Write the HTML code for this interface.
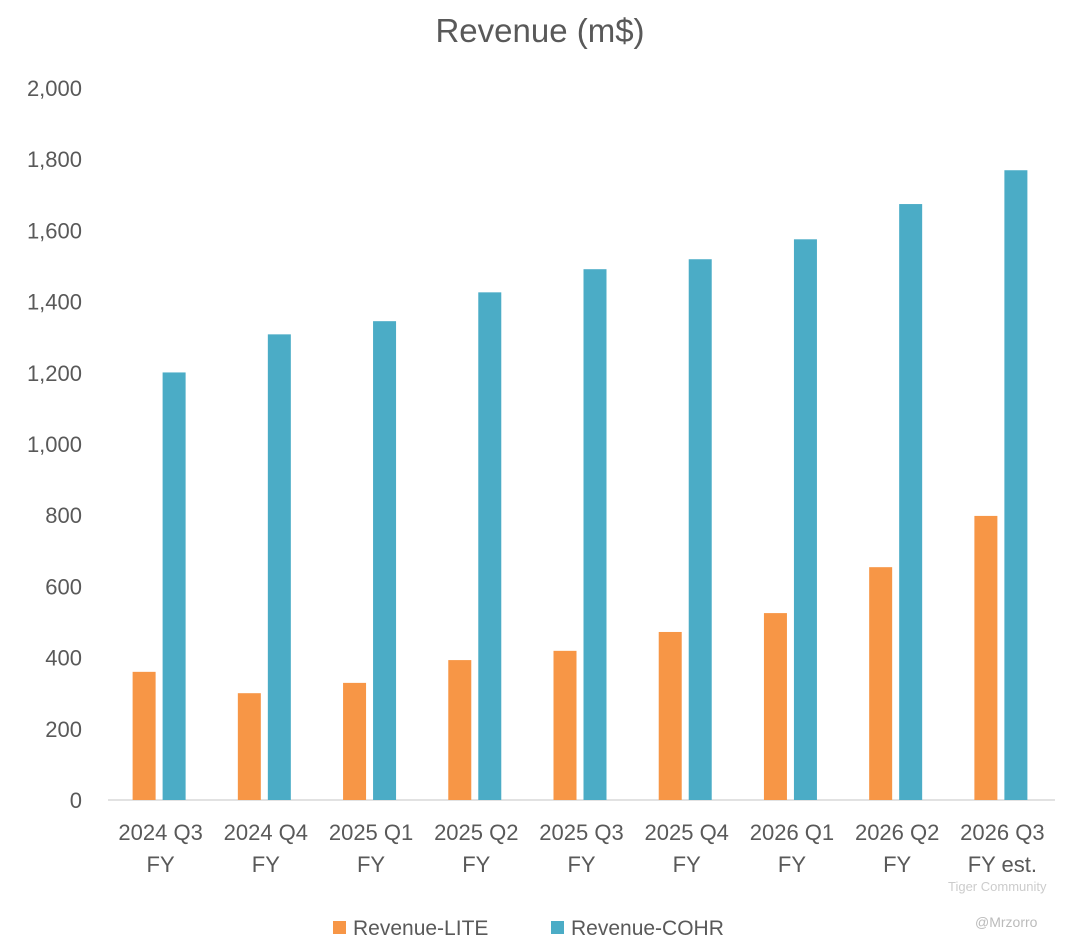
<!DOCTYPE html>
<html><head><meta charset="utf-8"><style>
body{margin:0;background:#fff;font-family:"Liberation Sans",sans-serif}
</style></head><body>
<svg id="chart" width="1080" height="946" xmlns="http://www.w3.org/2000/svg">
<text x="540" y="42" text-anchor="middle" font-size="33" fill="#595959" font-family="Liberation Sans, sans-serif">Revenue (m$)</text>
<g id="axes"></g><g id="bars"></g>
<g font-size="21" fill="#595959">
<rect x="333" y="921" width="13" height="13" fill="#F79646"/>
<text x="353" y="935">Revenue-LITE</text>
<rect x="551" y="921" width="13" height="13" fill="#4BACC6"/>
<text x="571" y="935">Revenue-COHR</text>
</g>
<text x="948" y="891" font-size="13" fill="#ccc">Tiger Community</text>
<text x="975" y="927" font-size="14" fill="#bbb">@Mrzorro</text>
</svg>
<script>
const categories=[["2024 Q3","FY"],["2024 Q4","FY"],["2025 Q1","FY"],["2025 Q2","FY"],["2025 Q3","FY"],["2025 Q4","FY"],["2026 Q1","FY"],["2026 Q2","FY"],["2026 Q3","FY est."]];
const lite=[360,300,329,393,419,472,525,654,798];
const cohr=[1201,1308,1345,1426,1491,1519,1575,1674,1769];
const yTicks=[0,200,400,600,800,1000,1200,1400,1600,1800,2000];
const NS="http://www.w3.org/2000/svg";
const x0=108,x1=1055,yBase=800,yTop=88,yMax=2000;
const y=v=>yBase-(v/yMax)*(yBase-yTop);
const bw=(x1-x0)/categories.length;
const axes=document.getElementById('axes'),bars=document.getElementById('bars');
function mk(t,a,p){const e=document.createElementNS(NS,t);for(const k in a)e.setAttribute(k,a[k]);p.appendChild(e);return e;}
yTicks.forEach(v=>{const t=mk('text',{x:82,y:y(v)+8,'text-anchor':'end','font-size':22,fill:'#595959'},axes);


t.textContent=v.toLocaleString('en-US');});
const base=mk('line',{x1:x0,x2:x1,y1:yBase,y2:yBase,stroke:'#d9d9d9','stroke-width':1.5},axes);


categories.forEach((c,i)=>{const cx=x0+bw*(i+0.5);
c.forEach((ln,j)=>{const t=mk('text',{x:cx,y:840+j*32,'text-anchor':'middle','font-size':22,fill:'#595959'},axes);


t.textContent=ln;});
const r1=mk('rect',{x:cx-28,y:y(lite[i]),width:23,height:yBase-y(lite[i]),fill:'#F79646'},bars);


const r2=mk('rect',{x:cx+2,y:y(cohr[i]),width:23,height:yBase-y(cohr[i]),fill:'#4BACC6'},bars);


});
</script>
</body></html>
